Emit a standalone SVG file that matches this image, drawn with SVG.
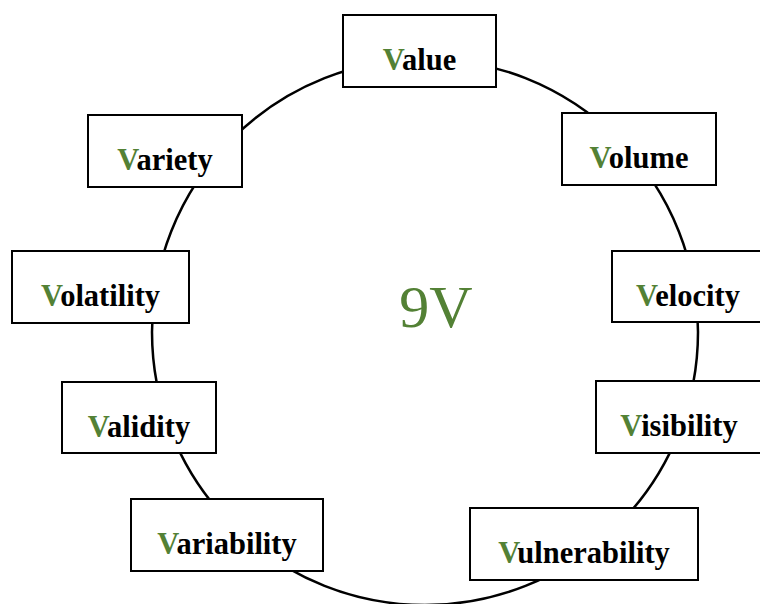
<svg xmlns="http://www.w3.org/2000/svg" width="760" height="604" viewBox="0 0 760 604">
<style>
.box{fill:#fff;stroke:#000;stroke-width:2}
text{font-family:'Liberation Serif', 'Times New Roman', serif}
.lbl{font-weight:700;font-size:30.5px;fill:#000;text-anchor:middle}
.v{fill:#538135}
.title{font-size:60px;fill:#538135;text-anchor:middle}
</style>
<rect width="760" height="604" fill="#fff"/>
<g id="connectors">
<circle cx="425" cy="332" r="273" fill="none" stroke="#000" stroke-width="2.5"/>
</g>
<g id="center"><text class="title" x="436" y="327">9V</text></g>
<g id="value"><rect class="box" x="343" y="15" width="153" height="72"/><text class="lbl" x="419.5" y="70"><tspan class="v">V</tspan>alue</text></g>
<g id="variety"><rect class="box" x="88" y="115" width="154" height="72"/><text class="lbl" x="165" y="170"><tspan class="v">V</tspan>ariety</text></g>
<g id="volume"><rect class="box" x="562" y="113" width="154" height="72"/><text class="lbl" x="639" y="168"><tspan class="v">V</tspan>olume</text></g>
<g id="volatility"><rect class="box" x="12" y="251" width="177" height="72"/><text class="lbl" x="100.5" y="306"><tspan class="v">V</tspan>olatility</text></g>
<g id="velocity"><rect class="box" x="612" y="251" width="152" height="71"/><text class="lbl" x="688" y="306"><tspan class="v">V</tspan>elocity</text></g>
<g id="validity"><rect class="box" x="62" y="382" width="154" height="71"/><text class="lbl" x="139" y="437"><tspan class="v">V</tspan>alidity</text></g>
<g id="visibility"><rect class="box" x="596" y="381" width="166" height="72"/><text class="lbl" x="679" y="436"><tspan class="v">V</tspan>isibility</text></g>
<g id="variability"><rect class="box" x="131" y="499" width="192" height="72"/><text class="lbl" x="227" y="554"><tspan class="v">V</tspan>ariability</text></g>
<g id="vulnerability"><rect class="box" x="470" y="508" width="228" height="72"/><text class="lbl" x="584" y="563"><tspan class="v">V</tspan>ulnerability</text></g>
</svg>
